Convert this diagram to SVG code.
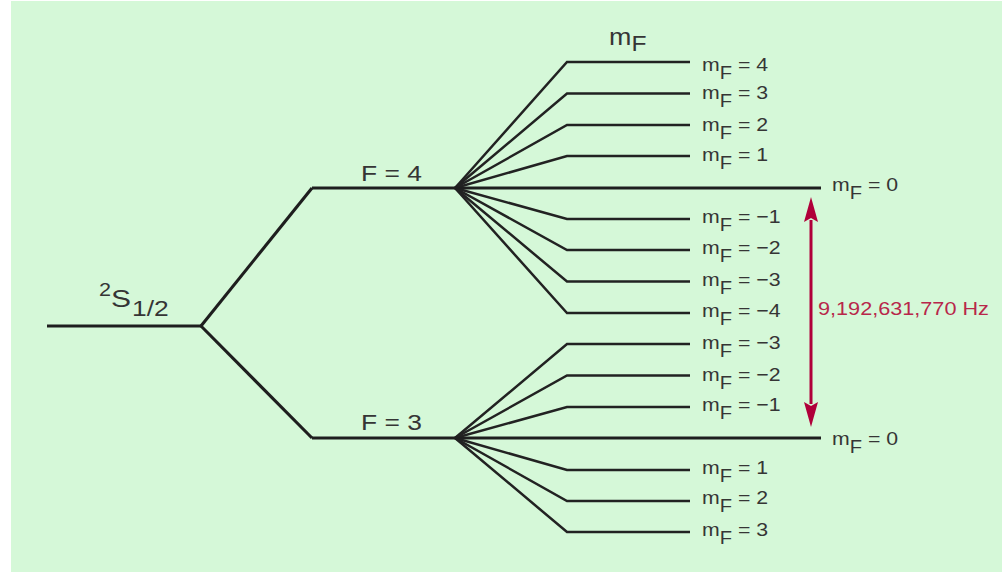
<svg xmlns="http://www.w3.org/2000/svg" width="1002" height="573" viewBox="0 0 1002 573">
<style>
.bg{fill:#d5f8d8}
.lvl{fill:none;stroke:#1e1e1e;stroke-width:3.1;stroke-linejoin:miter;stroke-linecap:butt}
.fan{fill:none;stroke:#222;stroke-width:2.5;stroke-linejoin:miter}
.t{font-family:"Liberation Sans",Arial,sans-serif;fill:#353535}
.lbl{font-size:18.5px}
.sub{font-size:17.5px}
.big{font-size:22px}
.red{fill:#b8274a;font-size:19px}
.arr{stroke:#b0003a;stroke-width:3;fill:none}
</style>
<defs>
<marker id="ah" viewBox="0 -7 25 14" refX="2" refY="0" markerWidth="25" markerHeight="14" markerUnits="userSpaceOnUse" orient="auto-start-reverse">
<path d="M0,-7 L25,0 L0,7 L4,0 Z" fill="#b0003a"/>
</marker>
</defs>
<rect x="0" y="0" width="1002" height="573" fill="#ffffff"/>
<rect class="bg" x="11" y="1" width="991" height="571"/>

<g id="connectors">
<path class="lvl" d="M201,326 L312,188"/>
<path class="lvl" d="M201,326 L312,438"/>
<g id="fan-F4">
<path class="fan" d="M455,188 L567,62 L690,62"/>
<path class="fan" d="M455,188 L567,93.5 L690,93.5"/>
<path class="fan" d="M455,188 L567,125 L690,125"/>
<path class="fan" d="M455,188 L567,156 L690,156"/>
<path class="fan" d="M455,188 L567,219 L690,219"/>
<path class="fan" d="M455,188 L567,250 L690,250"/>
<path class="fan" d="M455,188 L567,281.5 L690,281.5"/>
<path class="fan" d="M455,188 L567,313 L690,313"/>
</g>
<g id="fan-F3">
<path class="fan" d="M455,438 L567,344 L690,344"/>
<path class="fan" d="M455,438 L567,375.5 L690,375.5"/>
<path class="fan" d="M455,438 L567,407 L690,407"/>
<path class="fan" d="M455,438 L567,470 L690,470"/>
<path class="fan" d="M455,438 L567,501 L690,501"/>
<path class="fan" d="M455,438 L567,532 L690,532"/>
</g>
<path id="transition" class="arr" d="M811,220 L811,404" marker-start="url(#ah)" marker-end="url(#ah)"/>
</g>

<g id="level-S">
<path class="lvl" d="M47,326 L201,326"/>
<text class="t" transform="translate(99,296) scale(1.2,1)" font-size="18">2</text>
<text class="t" transform="translate(111,306.5) scale(1.25,1)" font-size="24">S</text>
<text class="t" transform="translate(132,315.5) scale(1.2,1)" font-size="22">1/2</text>
</g>

<g id="level-F4">
<path class="lvl" d="M312,188 L821,188"/>
<text class="t big" transform="translate(361,180.5) scale(1.2,1)">F = 4</text>
</g>

<g id="level-F3">
<path class="lvl" d="M312,438 L821,438"/>
<text class="t big" transform="translate(361,429.5) scale(1.2,1)">F = 3</text>
</g>

<g id="title-mF">
<text class="t" transform="translate(609,45) scale(1.12,1)" font-size="24">m<tspan font-size="22" dy="6">F</tspan></text>
</g>

<g id="labels-F4">
<text class="t lbl" transform="translate(702,70.5) scale(1.15,1)">m<tspan class="sub" dy="8">F</tspan><tspan dy="-8"> = 4</tspan></text>
<text class="t lbl" transform="translate(702,99.3) scale(1.15,1)">m<tspan class="sub" dy="8">F</tspan><tspan dy="-8"> = 3</tspan></text>
<text class="t lbl" transform="translate(702,130.5) scale(1.15,1)">m<tspan class="sub" dy="8">F</tspan><tspan dy="-8"> = 2</tspan></text>
<text class="t lbl" transform="translate(702,160.7) scale(1.15,1)">m<tspan class="sub" dy="8">F</tspan><tspan dy="-8"> = 1</tspan></text>
<text class="t lbl" transform="translate(832,191) scale(1.15,1)">m<tspan class="sub" dy="8">F</tspan><tspan dy="-8"> = 0</tspan></text>
<text class="t lbl" transform="translate(702,223) scale(1.15,1)">m<tspan class="sub" dy="8">F</tspan><tspan dy="-8"> = −1</tspan></text>
<text class="t lbl" transform="translate(702,254) scale(1.15,1)">m<tspan class="sub" dy="8">F</tspan><tspan dy="-8"> = −2</tspan></text>
<text class="t lbl" transform="translate(702,285.5) scale(1.15,1)">m<tspan class="sub" dy="8">F</tspan><tspan dy="-8"> = −3</tspan></text>
<text class="t lbl" transform="translate(702,316.7) scale(1.15,1)">m<tspan class="sub" dy="8">F</tspan><tspan dy="-8"> = −4</tspan></text>
</g>

<g id="labels-F3">
<text class="t lbl" transform="translate(702,348.8) scale(1.15,1)">m<tspan class="sub" dy="8">F</tspan><tspan dy="-8"> = −3</tspan></text>
<text class="t lbl" transform="translate(702,381) scale(1.15,1)">m<tspan class="sub" dy="8">F</tspan><tspan dy="-8"> = −2</tspan></text>
<text class="t lbl" transform="translate(702,411) scale(1.15,1)">m<tspan class="sub" dy="8">F</tspan><tspan dy="-8"> = −1</tspan></text>
<text class="t lbl" transform="translate(832,445) scale(1.15,1)">m<tspan class="sub" dy="8">F</tspan><tspan dy="-8"> = 0</tspan></text>
<text class="t lbl" transform="translate(702,474.2) scale(1.15,1)">m<tspan class="sub" dy="8">F</tspan><tspan dy="-8"> = 1</tspan></text>
<text class="t lbl" transform="translate(702,504.3) scale(1.15,1)">m<tspan class="sub" dy="8">F</tspan><tspan dy="-8"> = 2</tspan></text>
<text class="t lbl" transform="translate(702,535.5) scale(1.15,1)">m<tspan class="sub" dy="8">F</tspan><tspan dy="-8"> = 3</tspan></text>
</g>

<g id="label-frequency">
<text class="t red" transform="translate(818,315) scale(1.14,1)">9,192,631,770 Hz</text>
</g>
</svg>
